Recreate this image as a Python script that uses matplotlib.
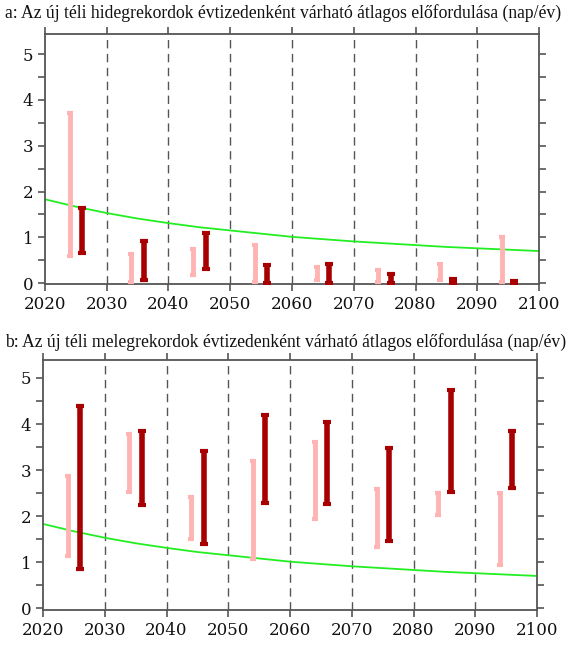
import numpy as np
import matplotlib
matplotlib.use("Agg")
import matplotlib.pyplot as plt

plt.rcParams["font.family"] = "DejaVu Serif"

# decades: pink = earlier scenario, dark red = later scenario
pink_x = [2024, 2034, 2044, 2054, 2064, 2074, 2084, 2094]
dark_x = [2026, 2036, 2046, 2056, 2066, 2076, 2086, 2096]

# panel a: cold records (low, high)
a_pink_lo = [0.60, 0.02, 0.18, 0.03, 0.06, 0.02, 0.06, 0.02]
a_pink_hi = [3.72, 0.63, 0.75, 0.83, 0.35, 0.28, 0.41, 1.00]
a_dark_lo = [0.65, 0.07, 0.30, 0.00, 0.00, 0.00, 0.00, 0.00]
a_dark_hi = [1.63, 0.93, 1.10, 0.40, 0.41, 0.20, 0.10, 0.04]

# panel b: warm records (low, high)
b_pink_lo = [1.13, 2.53, 1.51, 1.07, 1.93, 1.33, 2.02, 0.94]
b_pink_hi = [2.88, 3.79, 2.41, 3.20, 3.60, 2.58, 2.51, 2.51]
b_dark_lo = [0.86, 2.24, 1.39, 2.29, 2.26, 1.46, 2.53, 2.62]
b_dark_hi = [4.40, 3.84, 3.42, 4.19, 4.04, 3.47, 4.73, 3.84]

# expected record frequency without climate change (green curve)
exp_years = [2020, 2025, 2030, 2035, 2040, 2045, 2050, 2055, 2060, 2065,
             2070, 2075, 2080, 2085, 2090, 2095, 2100]
exp_vals = [1.83, 1.67, 1.53, 1.41, 1.31, 1.22, 1.15, 1.08, 1.01, 0.96,
            0.91, 0.87, 0.83, 0.79, 0.76, 0.73, 0.70]

titles = ["a: Az új téli hidegrekordok évtizedenként várható átlagos előfordulása (nap/év)",
          "b: Az új téli melegrekordok évtizedenként várható átlagos előfordulása (nap/év)"]

PINK = "#ffb3b3"
DARK = "#a80000"
GREEN = "#22ee22"
AXC = "#555555"

fig = plt.figure(figsize=(5.76, 6.48), dpi=100)
positions = [[0.0781, 0.5617, 0.8577, 0.3858], [0.0747, 0.0586, 0.8577, 0.3858]]
ylims = [(-0.02, 5.44), (-0.04, 5.39)]
data = [(a_pink_lo, a_pink_hi, a_dark_lo, a_dark_hi),
        (b_pink_lo, b_pink_hi, b_dark_lo, b_dark_hi)]
title_y = [1 - 13 / 648, 1 - 342 / 648]

for i in range(2):
    ax = fig.add_axes(positions[i])
    plo, phi, dlo, dhi = data[i]
    for x in range(2030, 2100, 10):
        ax.axvline(x, color="#555555", lw=1.0, ls=(0, (6, 4)), zorder=1)
    ax.plot(exp_years, exp_vals, color=GREEN, lw=1.3, zorder=2)
    ax.vlines(pink_x, plo, phi, color=PINK, lw=3.5, zorder=3)
    ax.vlines(dark_x, dlo, dhi, color=DARK, lw=4.0, zorder=4)
    ax.plot(pink_x + pink_x, plo + phi, ls="none", marker="_", ms=5, mew=3,
            color=PINK, zorder=3)
    ax.plot(dark_x + dark_x, dlo + dhi, ls="none", marker="_", ms=6, mew=3,
            color=DARK, zorder=4)
    ax.set_xlim(2020, 2100)
    ax.set_ylim(*ylims[i])
    ax.set_xticks(range(2020, 2101, 10))
    ax.set_yticks(range(0, 6))
    ax.set_yticks(np.arange(0.5, 5.5, 1.0), minor=True)
    ax.tick_params(which="both", direction="out", length=5, width=1.2,
                   color=AXC, top=True, right=True, labelsize=12,
                   labelcolor="#111111")
    ax.tick_params(axis="x", which="minor", top=False, bottom=False)
    for sp in ax.spines.values():
        sp.set_color(AXC)
        sp.set_linewidth(1.3)
    fig.text(0.009, title_y[i], titles[i], family="Liberation Serif",
             fontsize=12.7, ha="left", va="center", color="#111111")

fig.savefig("out.png", dpi=100)
